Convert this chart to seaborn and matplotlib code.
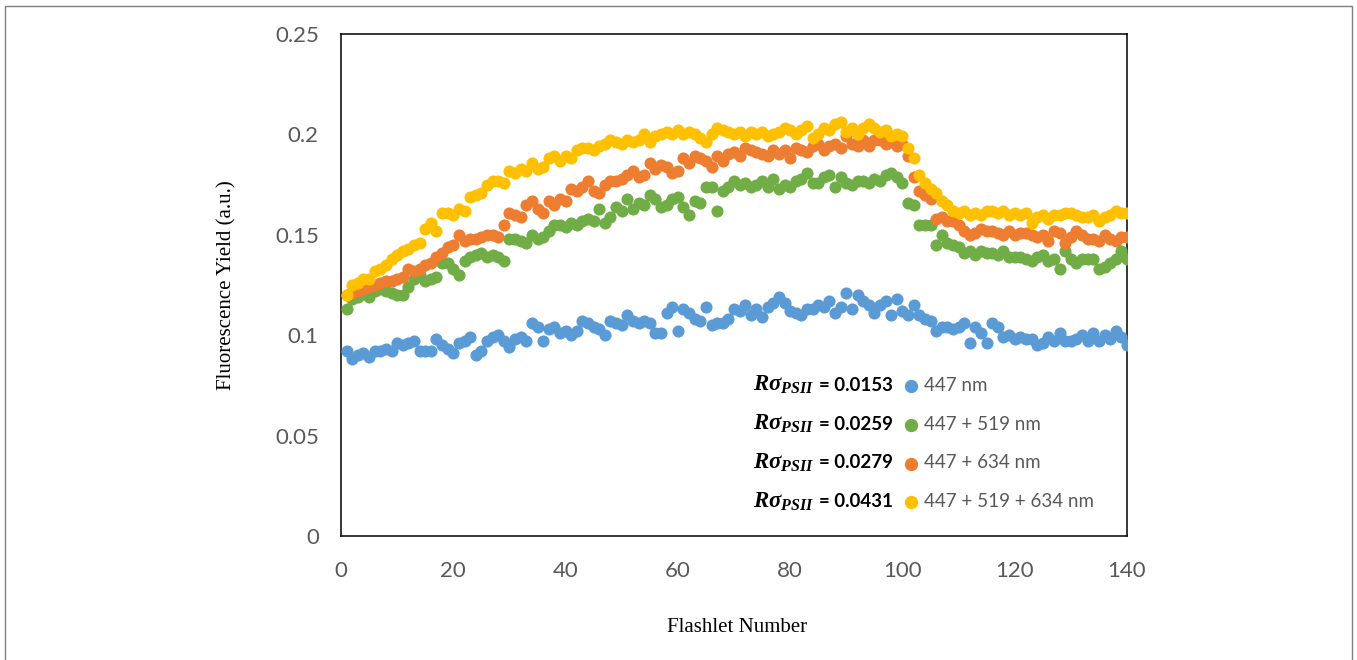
import numpy as np
import pandas as pd
import matplotlib
matplotlib.use("Agg")
import matplotlib.pyplot as plt
import seaborn as sns
from matplotlib.patches import Rectangle

# --- Data ---
flashlet = list(range(1, 141))

blue_447 = [
    0.092, 0.088, 0.090, 0.091, 0.089, 0.092, 0.092, 0.093, 0.092, 0.096,
    0.095, 0.096, 0.097, 0.092, 0.092, 0.092, 0.098, 0.095, 0.093, 0.091,
    0.096, 0.097, 0.099, 0.090, 0.092, 0.097, 0.099, 0.100, 0.097, 0.094,
    0.098, 0.099, 0.097, 0.106, 0.104, 0.097, 0.103, 0.104, 0.101, 0.102,
    0.100, 0.102, 0.107, 0.106, 0.104, 0.103, 0.100, 0.107, 0.106, 0.105,
    0.110, 0.107, 0.106, 0.107, 0.106, 0.101, 0.101, 0.111, 0.114, 0.102,
    0.113, 0.111, 0.108, 0.107, 0.114, 0.105, 0.106, 0.106, 0.108, 0.113,
    0.112, 0.115, 0.110, 0.113, 0.109, 0.114, 0.116, 0.119, 0.116, 0.112,
    0.111, 0.110, 0.113, 0.113, 0.115, 0.114, 0.117, 0.111, 0.114, 0.121,
    0.113, 0.120, 0.117, 0.115, 0.111, 0.115, 0.117, 0.110, 0.118, 0.112,
    0.110, 0.115, 0.110, 0.108, 0.107, 0.102, 0.104, 0.104, 0.103, 0.104,
    0.106, 0.096, 0.104, 0.101, 0.096, 0.106, 0.104, 0.099, 0.100, 0.098,
    0.099, 0.098, 0.098, 0.095, 0.096, 0.099, 0.097, 0.101, 0.097, 0.097,
    0.098, 0.100, 0.097, 0.101, 0.097, 0.100, 0.098, 0.102, 0.099, 0.095,
]

green_447_519 = [
    0.113, 0.118, 0.119, 0.121, 0.119, 0.122, 0.123, 0.122, 0.121, 0.120,
    0.120, 0.124, 0.128, 0.130, 0.127, 0.128, 0.129, 0.136, 0.136, 0.133,
    0.130, 0.137, 0.139, 0.140, 0.141, 0.139, 0.140, 0.139, 0.137, 0.148,
    0.148, 0.147, 0.146, 0.150, 0.148, 0.149, 0.152, 0.155, 0.155, 0.154,
    0.156, 0.155, 0.157, 0.158, 0.157, 0.163, 0.156, 0.159, 0.164, 0.162,
    0.168, 0.163, 0.166, 0.165, 0.170, 0.168, 0.164, 0.165, 0.168, 0.169,
    0.164, 0.160, 0.167, 0.166, 0.174, 0.174, 0.162, 0.172, 0.174, 0.177,
    0.175, 0.176, 0.174, 0.175, 0.177, 0.174, 0.178, 0.173, 0.175, 0.174,
    0.177, 0.178, 0.181, 0.176, 0.176, 0.179, 0.180, 0.174, 0.179, 0.176,
    0.175, 0.177, 0.177, 0.176, 0.178, 0.177, 0.180, 0.181, 0.179, 0.176,
    0.166, 0.165, 0.155, 0.155, 0.155, 0.145, 0.150, 0.146, 0.145, 0.144,
    0.141, 0.142, 0.140, 0.142, 0.141, 0.141, 0.140, 0.142, 0.139, 0.139,
    0.139, 0.138, 0.137, 0.139, 0.140, 0.137, 0.138, 0.133, 0.142, 0.138,
    0.136, 0.138, 0.138, 0.138, 0.133, 0.134, 0.136, 0.138, 0.142, 0.138,
]

orange_447_634 = [
    0.120, 0.121, 0.122, 0.123, 0.124, 0.125, 0.126, 0.127, 0.127, 0.128,
    0.129, 0.133, 0.132, 0.133, 0.135, 0.136, 0.139, 0.141, 0.144, 0.145,
    0.150, 0.147, 0.148, 0.148, 0.149, 0.150, 0.150, 0.149, 0.155, 0.161,
    0.160, 0.159, 0.165, 0.167, 0.163, 0.161, 0.167, 0.165, 0.168, 0.167,
    0.173, 0.172, 0.174, 0.177, 0.172, 0.171, 0.175, 0.177, 0.177, 0.178,
    0.180, 0.182, 0.179, 0.180, 0.186, 0.183, 0.185, 0.184, 0.181, 0.182,
    0.188, 0.186, 0.189, 0.188, 0.187, 0.184, 0.189, 0.187, 0.190, 0.191,
    0.189, 0.193, 0.192, 0.191, 0.190, 0.189, 0.192, 0.190, 0.192, 0.188,
    0.193, 0.192, 0.191, 0.194, 0.195, 0.192, 0.194, 0.195, 0.193, 0.199,
    0.195, 0.194, 0.197, 0.194, 0.197, 0.197, 0.195, 0.196, 0.194, 0.195,
    0.189, 0.179, 0.172, 0.170, 0.168, 0.158, 0.159, 0.157, 0.157, 0.155,
    0.152, 0.150, 0.151, 0.153, 0.152, 0.152, 0.151, 0.150, 0.152, 0.150,
    0.151, 0.151, 0.150, 0.149, 0.150, 0.147, 0.152, 0.151, 0.146, 0.149,
    0.152, 0.150, 0.148, 0.148, 0.147, 0.150, 0.148, 0.147, 0.149, 0.149,
]

yellow_447_519_634 = [
    0.120, 0.125, 0.126, 0.128, 0.128, 0.132, 0.133, 0.135, 0.138, 0.140,
    0.142, 0.143, 0.145, 0.146, 0.153, 0.156, 0.152, 0.161, 0.161, 0.160,
    0.163, 0.162, 0.169, 0.170, 0.171, 0.175, 0.177, 0.177, 0.176, 0.182,
    0.181, 0.183, 0.182, 0.186, 0.183, 0.184, 0.188, 0.189, 0.187, 0.189,
    0.188, 0.192, 0.193, 0.193, 0.192, 0.194, 0.195, 0.197, 0.196, 0.195,
    0.197, 0.196, 0.197, 0.200, 0.196, 0.199, 0.200, 0.201, 0.200, 0.202,
    0.200, 0.201, 0.200, 0.198, 0.196, 0.200, 0.203, 0.202, 0.201, 0.200,
    0.201, 0.199, 0.201, 0.200, 0.201, 0.199, 0.200, 0.201, 0.203, 0.202,
    0.200, 0.202, 0.204, 0.198, 0.200, 0.203, 0.202, 0.205, 0.206, 0.201,
    0.203, 0.200, 0.203, 0.205, 0.203, 0.201, 0.202, 0.199, 0.200, 0.199,
    0.193, 0.188, 0.180, 0.176, 0.173, 0.171, 0.167, 0.165, 0.162, 0.161,
    0.162, 0.160, 0.161, 0.160, 0.162, 0.162, 0.161, 0.162, 0.160, 0.161,
    0.160, 0.161, 0.156, 0.159, 0.160, 0.158, 0.160, 0.160, 0.161, 0.161,
    0.160, 0.159, 0.159, 0.160, 0.157, 0.159, 0.160, 0.162, 0.161, 0.161,
]

series_labels = ["447 nm", "447 + 519 nm", "447 + 634 nm", "447 + 519 + 634 nm"]
r_sigma = ["0.0153", "0.0259", "0.0279", "0.0431"]
series_colors = ["#5B9BD5", "#70AD47", "#ED7D31", "#FFC000"]
x_ticks = [0, 20, 40, 60, 80, 100, 120, 140]
y_ticks = [0, 0.05, 0.1, 0.15, 0.2, 0.25]
y_tick_labels = ["0", "0.05", "0.1", "0.15", "0.2", "0.25"]

# --- Long-form frame for seaborn ---
frames = []
for lab, vals in zip(series_labels,
                     [blue_447, green_447_519, orange_447_634, yellow_447_519_634]):
    frames.append(pd.DataFrame({"flashlet": flashlet, "yield": vals, "series": lab}))
df = pd.concat(frames, ignore_index=True)

# --- Plot setup ---
sns.set_style("white")
plt.rcParams["font.family"] = ["Lato", "DejaVu Sans"]
plt.rcParams["mathtext.fontset"] = "custom"
plt.rcParams["mathtext.it"] = "Liberation Serif:italic:bold"
plt.rcParams["mathtext.rm"] = "Liberation Serif:bold"

W, H = 1357, 660
fig = plt.figure(figsize=(W / 100, H / 100), dpi=100)
ax = fig.add_axes([341 / W, 1 - 536 / H, (1127 - 341) / W, (536 - 34) / H])

for lab, col in zip(series_labels, series_colors):
    sns.scatterplot(data=df[df["series"] == lab], x="flashlet", y="yield",
                    color=col, s=76, linewidth=0, label=lab, ax=ax, zorder=3)

ax.set_xlim(0, 140)
ax.set_ylim(0, 0.25)
ax.set_xticks(x_ticks)
ax.set_yticks(y_ticks)
ax.set_yticklabels(y_tick_labels)
ax.tick_params(direction="in", length=5.5, width=1, color="black",
               labelsize=16, labelcolor="#595959")
ax.tick_params(axis="y", pad=16)
ax.tick_params(axis="x", pad=18)
for sp in ax.spines.values():
    sp.set_color("black")
    sp.set_linewidth(1.1)

# axis titles placed at the reference pixel positions
ax.set_xlabel("")
ax.set_ylabel("")
fig.text(737 / W, 1 - 628 / H, "Flashlet Number", family="Liberation Serif",
         fontsize=15, color="black", ha="center", va="center")
fig.text(227 / W, 1 - 285 / H, "Fluorescence Yield (a.u.)", family="Liberation Serif",
         fontsize=15, color="black", ha="center", va="center", rotation=90)

leg = ax.legend(loc="upper left", bbox_to_anchor=(903 / W, 1 - 377 / H),
                bbox_transform=fig.transFigure, frameon=False, fontsize=13.5,
                labelcolor="#595959", handlelength=0.8, handletextpad=0.3,
                labelspacing=1.16, borderpad=0, borderaxespad=0, markerscale=1.1)

# R-sigma values placed to the left of each legend row, on the same baseline
fig.canvas.draw()
renderer = fig.canvas.get_renderer()
inv = fig.transFigure.inverted()
for txt, val in zip(leg.get_texts(), r_sigma):
    bb = txt.get_window_extent(renderer)
    d = renderer.get_text_width_height_descent("lp", txt.get_fontproperties(), ismath=False)[2]
    yb = bb.y0 + d
    xf, yf = inv.transform((893, yb))
    vt = fig.text(xf, yf, "= " + val, ha="right", va="baseline",
                  fontsize=13.5, fontweight="bold", color="black")
    vb = vt.get_window_extent(renderer)
    xm, _ = inv.transform((vb.x0 - 5, yb))
    fig.text(xm, yf, r"$R\sigma_{PSII}$", ha="right", va="baseline",
             fontsize=16.5, color="black")

# outer frame
fig.add_artist(Rectangle((5 / W, -0.01), (W - 10) / W, 1.01 - 6 / H,
                         transform=fig.transFigure, fill=False,
                         edgecolor="#7F7F7F", linewidth=1))

fig.savefig("out.png", dpi=100)
